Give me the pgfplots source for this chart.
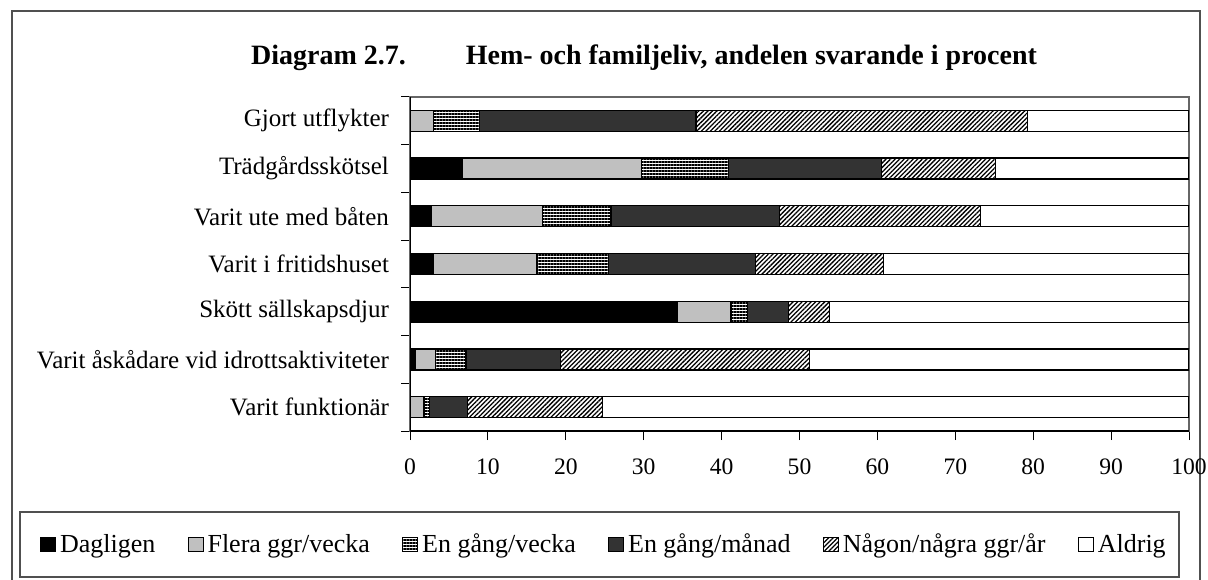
\documentclass[border=0pt]{standalone}
\usepackage{pgfplots}
\pgfplotsset{compat=1.18}
\usepackage{pgfplotstable}
\usepackage{fontspec}
\setmainfont{Liberation Serif}
\usetikzlibrary{patterns.meta}
\definecolor{lgray}{HTML}{C0C0C0}
\definecolor{dgray}{HTML}{333333}
\definecolor{frame}{HTML}{505050}

\pgfplotstableread{
y D F V M N A
6 0 3.0 5.9 27.8 42.6 20.7
5 6.7 23.0 11.2 19.6 14.7 24.8
4 2.7 14.3 8.8 21.6 25.8 26.8
3 3.0 13.3 9.2 18.9 16.4 39.2
2 34.3 6.9 2.1 5.3 5.2 46.2
1 0.7 2.6 3.9 12.1 32.0 48.7
0 0 1.8 0.7 4.9 17.3 75.3
}\data

\begin{document}
\begin{tikzpicture}
\useasboundingbox (0pt,0pt) rectangle (604pt,289.5pt);
\draw[frame, line width=1pt] (6pt,-2pt) -- (6pt,283.8pt) -- (600pt,283.8pt) -- (600pt,-2pt);
\draw[frame, line width=0.8pt] (10pt,1pt) rectangle (589.5pt,33.5pt);
\node[font=\fontsize{14}{16}\selectfont\bfseries] at (322pt,260.5pt) {Diagram 2.7.\hspace{30pt}Hem- och familjeliv, andelen svarande i procent};
\begin{axis}[
  at={(205pt,74pt)}, anchor=south west,
  width=389.5pt, height=167pt, scale only axis,
  xbar stacked, bar width=10.5pt,
  xmin=0, xmax=100, ymin=-0.5, ymax=6.5,
  xtick={0,10,...,100},
  ytick={0,...,6},
  yticklabels={Varit funktionär, Varit åskådare vid idrottsaktiviteter, Skött sällskapsdjur, Varit i fritidshuset, Varit ute med båten, Trädgårdsskötsel, Gjort utflykter},
  minor ytick={-0.5,0.5,...,6.5},
  ytick style={draw=none},
  minor tick length=4.5pt,
  major tick length=4.5pt,
  tick align=outside,
  xtick pos=bottom, ytick pos=left,
  minor y tick style={draw=black, line width=0.5pt},
  x tick style={draw=black, line width=0.5pt},
  axis line style={draw=gray!80!black, line width=0.6pt},
  yticklabel style={font=\fontsize{12.5}{14}\selectfont, xshift=-2.5pt},
  xticklabel style={font=\fontsize{11.8}{14}\selectfont, yshift=-6pt},
  /pgf/number format/assume math mode=true,
  legend columns=6,
  legend style={at={(0.2503,-0.3398)}, anchor=center, draw=none, fill=none,
    font=\fontsize{13}{15}\selectfont,
    /tikz/every even column/.append style={column sep=14.2pt},
    inner sep=0pt},
  legend image code/.code={\draw[#1, line width=0.5pt] (0pt,-3.7pt) rectangle (7.4pt,3.7pt);},
  every axis plot/.append style={draw=black, line width=0.6pt},
]
\addplot[fill=black] table[x=D,y=y] {\data};
\addlegendentry{Dagligen}
\addplot[fill=lgray] table[x=F,y=y] {\data};
\addlegendentry{Flera ggr/vecka}
\addplot[pattern={Lines[angle=0,distance=1.5pt,line width=0.8pt]}, pattern color=black] table[x=V,y=y] {\data};
\addlegendentry{En gång/vecka}
\addplot[fill=dgray] table[x=M,y=y] {\data};
\addlegendentry{En gång/månad}
\addplot[pattern={Lines[angle=45,distance=1.6pt,line width=0.65pt]}, pattern color=black] table[x=N,y=y] {\data};
\addlegendentry{Någon/några ggr/år}
\addplot[fill=white] table[x=A,y=y] {\data};
\addlegendentry{Aldrig}
\draw[black, line width=0.6pt] (rel axis cs:0,1) -- (rel axis cs:0,0) -- (rel axis cs:1,0);
\end{axis}
\end{tikzpicture}
\end{document}
